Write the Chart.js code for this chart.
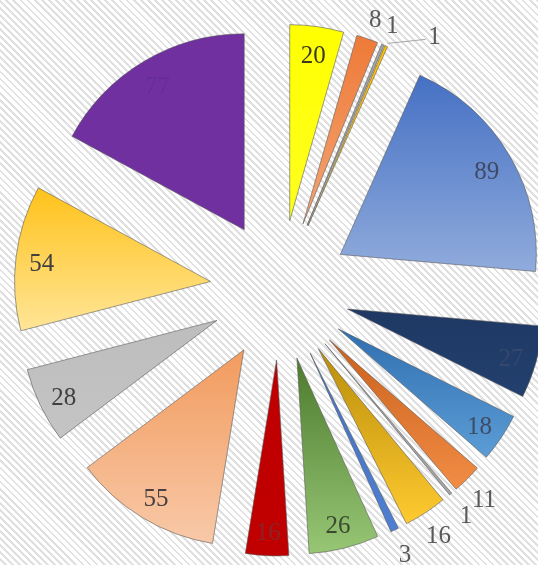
<!DOCTYPE html>
<html>
<head>
<meta charset="utf-8">
<title>Exploded pie</title>
<script src="https://cdn.jsdelivr.net/npm/chart.js@4/dist/chart.umd.min.js"></script>
<style>
  html, body { margin: 0; padding: 0; }
  body {
    width: 538px; height: 565px; overflow: hidden;
    background: repeating-linear-gradient(45deg, #ffffff 0px, #ffffff 3px, #e0e0e0 3px, #e0e0e0 5px);
  }
  #wrap { position: relative; width: 538px; height: 565px; }
</style>
</head>
<body>
<div id="wrap"><canvas id="pie" width="538" height="565"></canvas></div>
<script>
/* Exploded pie, clockwise from 12 o'clock */

var categories = ["Item 1", "Item 2", "Item 3", "Item 4", "Item 5", "Item 6", "Item 7", "Item 8", "Item 9",
                  "Item 10", "Item 11", "Item 12", "Item 13", "Item 14", "Item 15", "Item 16", "Item 17"];
var values = [20, 8, 1, 1, 89, 27, 18, 11, 1, 16, 3, 26, 16, 55, 28, 54, 77];

// fill gradients (top -> bottom of each slice)
var topColors    = ["#ffff00", "#ee7a38", "#a5a5a5", "#ffc000", "#4570c3", "#1f3864", "#2f6fb0", "#c9601c", "#a5a5a5",
                    "#b98d0a", "#4472c4", "#4d7a2e", "#c00000", "#f29b5e", "#bdbdbd", "#ffc21a", "#7030a0"];
var bottomColors = ["#ffff20", "#f4a574", "#a5a5a5", "#ffc000", "#90abdc", "#22406e", "#5d9dd6", "#f28d45", "#a5a5a5",
                    "#ffca30", "#4f7fd0", "#97c775", "#c00000", "#f8c9a8", "#c4c4c4", "#ffe597", "#7030a0"];
var labelColors  = ["#3a3a20", "#595959", "#595959", "#595959", "#3f4b66", "#34486e", "#3d4d66", "#595959", "#595959",
                    "#595959", "#595959", "#3a4a30", "#8a2424", "#4a4040", "#404040", "#404040", "#662d98"];
var labelOutside = [false, true, true, true, false, false, false, true, true,
                    true, true, false, false, false, false, false, false];

var RADIUS = 196;     // outer radius of every slice
var EXPLODE = 70;     // distance each slice is pulled out from the centre
var LABEL_IN = 170;   // label distance from slice tip, inside
var LABEL_OUT = 220;  // label distance from slice tip, outside
var LABEL_DROP = 4;   // text sits a little low in the original

(function () {
  "use strict";

  var total = values.reduce(function (a, b) { return a + b; }, 0);

  function sliceAngles(i) {
    var before = 0;
    for (var k = 0; k < i; k++) before += values[k];
    var start = -Math.PI / 2 + 2 * Math.PI * before / total;
    var end = start + 2 * Math.PI * values[i] / total;
    return { start: start, end: end, mid: (start + end) / 2 };
  }

  // vertical gradient spanning the exploded slice's own height
  function sliceFill(ctx) {
    var i = ctx.dataIndex;
    var chart = ctx.chart;
    var area = chart.chartArea;
    if (!area || i === undefined) return topColors[i] || "#999";
    var a = sliceAngles(i);
    var cy = (area.top + area.bottom) / 2 + Math.sin(a.mid) * EXPLODE;
    var ys = [cy, cy + RADIUS * Math.sin(a.start), cy + RADIUS * Math.sin(a.end)];
    [Math.PI / 2, -Math.PI / 2, 3 * Math.PI / 2].forEach(function (t) {
      if (t > a.start && t < a.end) ys.push(cy + RADIUS * Math.sin(t));
    });
    var y0 = Math.min.apply(null, ys), y1 = Math.max.apply(null, ys);
    if (y1 - y0 < 1) y1 = y0 + 1;
    var g = chart.ctx.createLinearGradient(0, y0, 0, y1);
    g.addColorStop(0, topColors[i]);
    g.addColorStop(1, bottomColors[i]);
    return g;
  }

  // ── Pull every arc out along its bisector ────────────────────────────
  var explodePlugin = {
    id: "explode",
    afterDatasetsUpdate: function (chart) {
      chart.getDatasetMeta(0).data.forEach(function (arc) {
        var mid = (arc.startAngle + arc.endAngle) / 2;
        arc.x += Math.cos(mid) * EXPLODE;
        arc.y += Math.sin(mid) * EXPLODE;
      });
    }
  };

  // ── Value labels ─────────────────────────────────────────────────────
  var labelPlugin = {
    id: "sliceLabels",
    afterDatasetsDraw: function (chart) {
      var c = chart.ctx;
      c.save();
      c.font = "25px 'Liberation Serif', 'DejaVu Serif', serif";
      c.textAlign = "center";
      c.textBaseline = "middle";
      chart.getDatasetMeta(0).data.forEach(function (arc, i) {
        var mid = (arc.startAngle + arc.endAngle) / 2;
        var d = labelOutside[i] ? LABEL_OUT : LABEL_IN;
        var x = arc.x + Math.cos(mid) * d;
        var y = arc.y + Math.sin(mid) * d + LABEL_DROP;
        if (i === 3) {
          // this one sits off to the side with a leader line
          var tx = arc.x + Math.cos(mid) * (RADIUS + 3);
          var ty = arc.y + Math.sin(mid) * (RADIUS + 3);
          x = tx + 47; y = ty - 6;
          c.strokeStyle = "#a6a6a6";
          c.lineWidth = 1;
          c.beginPath();
          c.moveTo(tx, ty);
          c.lineTo(x - 9, y + 2);
          c.stroke();
        }
        c.fillStyle = labelOutside[i] ? "#595959" : labelColors[i];
        c.fillText(String(values[i]), x, y);
      });
      c.restore();
    }
  };

  new Chart(document.getElementById("pie").getContext("2d"), {
    type: "pie",
    data: {
      labels: categories,
      datasets: [{
        data: values,
        backgroundColor: sliceFill,
        borderColor: "rgba(90,90,90,0.75)",
        borderWidth: 0.8
      }]
    },
    options: {
      responsive: false,
      animation: false,
      events: [],
      radius: RADIUS,
      layout: { padding: { left: 22, top: 15 } },
      plugins: {
        legend: { display: false },
        tooltip: { enabled: false }
      }
    },
    plugins: [explodePlugin, labelPlugin]
  });
})();
</script>
</body>
</html>
